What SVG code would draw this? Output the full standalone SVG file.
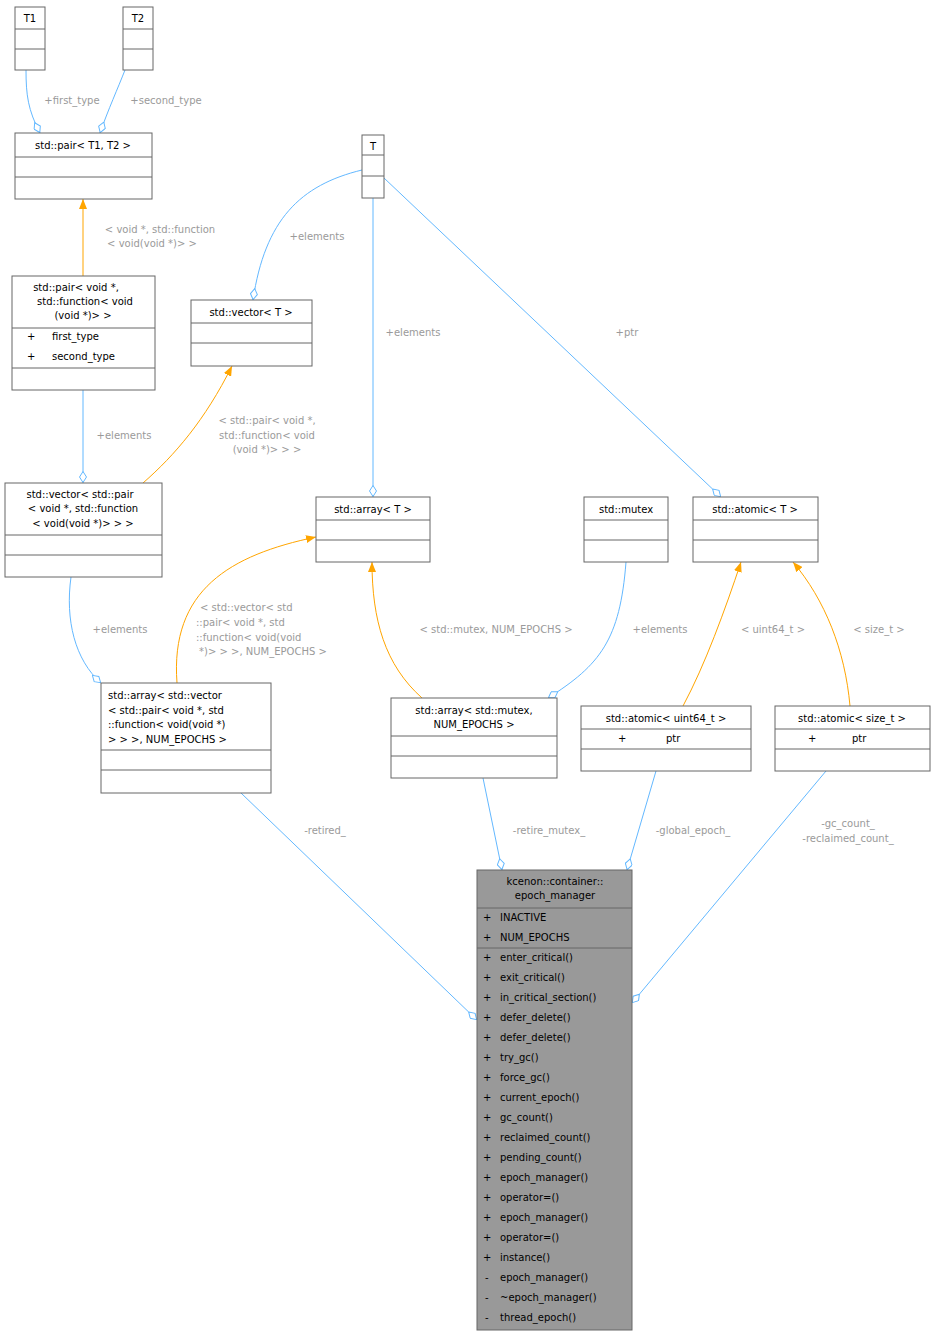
<svg xmlns="http://www.w3.org/2000/svg" width="936" height="1336" viewBox="0 0 936 1336">
<style>
text{font-family:"DejaVu Sans",sans-serif;font-size:10px;fill:#000}
.c{text-anchor:middle}
.l{fill:#9a9a9a;font-size:10px}
.b{fill:#fff;stroke:#666;stroke-width:1}
.m{fill:#999;stroke:#666;stroke-width:1}
.s{stroke:#666;stroke-width:1}
.e{fill:none;stroke:#63b8ff;stroke-width:1}
.o{fill:none;stroke:#ffa500;stroke-width:1}
</style>
<defs>
<marker id="d" viewBox="0 0 12 8" refX="12" refY="4" markerWidth="12" markerHeight="8" markerUnits="userSpaceOnUse" orient="auto"><path d="M0.5,4 L6,0.5 L11.5,4 L6,7.5 Z" fill="#fff" stroke="#63b8ff"/></marker>
<marker id="a" viewBox="0 0 10 8" refX="10" refY="4" markerWidth="10" markerHeight="8" markerUnits="userSpaceOnUse" orient="auto"><path d="M0,0 L10,4 L0,8 Z" fill="#ffa500"/></marker>
</defs>
<g id="edges">
<path class="e" d="M26,70 C26,95 28,110 40,133" marker-end="url(#d)"/>
<text class="l c" x="72" y="104">+first_type</text>
<path class="e" d="M125,70 C118,88 108,110 100,133" marker-end="url(#d)"/>
<text class="l c" x="166" y="104">+second_type</text>
<path class="o" d="M83,276 L83,199" marker-end="url(#a)"/>
<text class="l c" x="160" y="233">&lt; void *, std::function</text>
<text class="l c" x="152" y="247">&lt; void(void *)&gt; &gt;</text>
<path class="e" d="M362,170 C300,185 265,220 253,300" marker-end="url(#d)"/>
<text class="l c" x="317" y="240">+elements</text>
<path class="e" d="M373,198 L373,497" marker-end="url(#d)"/>
<text class="l c" x="413" y="336">+elements</text>
<path class="e" d="M384,178 L721,497" marker-end="url(#d)"/>
<text class="l c" x="627" y="336">+ptr</text>
<path class="e" d="M83,390 L83,483" marker-end="url(#d)"/>
<text class="l c" x="124" y="439">+elements</text>
<path class="o" d="M143,483 C175,455 205,420 232,366" marker-end="url(#a)"/>
<text class="l c" x="267" y="424">&lt; std::pair&lt; void *,</text>
<text class="l c" x="267" y="439">std::function&lt; void</text>
<text class="l c" x="267" y="453">(void *)&gt; &gt; &gt;</text>
<path class="e" d="M71,577 C65,620 75,660 101,683" marker-end="url(#d)"/>
<text class="l c" x="120" y="633">+elements</text>
<path class="o" d="M177,683 C170,590 230,555 316,537" marker-end="url(#a)"/>
<text class="l" x="200" y="611">&lt; std::vector&lt; std</text>
<text class="l" x="196" y="626">::pair&lt; void *, std</text>
<text class="l" x="196" y="641">::function&lt; void(void</text>
<text class="l" x="199" y="655">*)&gt; &gt; &gt;, NUM_EPOCHS &gt;</text>
<path class="o" d="M422,698 C385,665 372,620 372,562" marker-end="url(#a)"/>
<text class="l c" x="496" y="633">&lt; std::mutex, NUM_EPOCHS &gt;</text>
<path class="e" d="M626,562 C620,640 600,665 548,698" marker-end="url(#d)"/>
<text class="l c" x="660" y="633">+elements</text>
<path class="o" d="M683,706 C705,665 725,610 741,562" marker-end="url(#a)"/>
<text class="l c" x="773" y="633">&lt; uint64_t &gt;</text>
<path class="o" d="M850,706 C845,650 825,600 793,562" marker-end="url(#a)"/>
<text class="l c" x="879" y="633">&lt; size_t &gt;</text>
<path class="e" d="M241,793 L477,1020" marker-end="url(#d)"/>
<text class="l c" x="325" y="834">-retired_</text>
<path class="e" d="M483,778 L502,870" marker-end="url(#d)"/>
<text class="l c" x="549" y="834">-retire_mutex_</text>
<path class="e" d="M656,771 L627,870" marker-end="url(#d)"/>
<text class="l c" x="693" y="834">-global_epoch_</text>
<path class="e" d="M826,771 L632,1003" marker-end="url(#d)"/>
<text class="l c" x="848" y="827">-gc_count_</text>
<text class="l c" x="848" y="842">-reclaimed_count_</text>
</g>
<g id="T1"><rect class="b" x="15" y="7" width="30" height="63"/><path class="s" d="M15,29H45M15,49H45"/><text class="c" x="30" y="22">T1</text></g>
<g id="T2"><rect class="b" x="123" y="7" width="30" height="63"/><path class="s" d="M123,29H153M123,49H153"/><text class="c" x="138" y="22">T2</text></g>
<g id="pairT"><rect class="b" x="15" y="133" width="137" height="66"/><path class="s" d="M15,157H152M15,177H152"/><text class="c" x="83" y="149">std::pair&lt; T1, T2 &gt;</text></g>
<g id="pairV"><rect class="b" x="12" y="276" width="143" height="114"/><path class="s" d="M12,328H155M12,368H155"/>
<text class="c" x="76" y="291">std::pair&lt; void *,</text><text class="c" x="85" y="305">std::function&lt; void</text><text class="c" x="83" y="319">(void *)&gt; &gt;</text>
<text x="27" y="340">+</text><text x="52" y="340">first_type</text><text x="27" y="360">+</text><text x="52" y="360">second_type</text></g>
<g id="vecT"><rect class="b" x="191" y="300" width="121" height="66"/><path class="s" d="M191,323H312M191,343H312"/><text class="c" x="251" y="316">std::vector&lt; T &gt;</text></g>
<g id="T"><rect class="b" x="362" y="135" width="22" height="63"/><path class="s" d="M362,155H384M362,176H384"/><text class="c" x="373" y="150">T</text></g>
<g id="vecPair"><rect class="b" x="5" y="483" width="157" height="94"/><path class="s" d="M5,535H162M5,555H162"/>
<text class="c" x="80" y="498">std::vector&lt; std::pair</text><text class="c" x="83" y="512">&lt; void *, std::function</text><text class="c" x="83" y="527">&lt; void(void *)&gt; &gt; &gt;</text></g>
<g id="arrT"><rect class="b" x="316" y="497" width="114" height="65"/><path class="s" d="M316,520H430M316,540H430"/><text class="c" x="373" y="513">std::array&lt; T &gt;</text></g>
<g id="mutex"><rect class="b" x="584" y="497" width="84" height="65"/><path class="s" d="M584,520H668M584,540H668"/><text class="c" x="626" y="513">std::mutex</text></g>
<g id="atomT"><rect class="b" x="693" y="497" width="125" height="65"/><path class="s" d="M693,520H818M693,540H818"/><text class="c" x="755" y="513">std::atomic&lt; T &gt;</text></g>
<g id="arrVec"><rect class="b" x="101" y="683" width="170" height="110"/><path class="s" d="M101,750H271M101,770H271"/>
<text x="108" y="699">std::array&lt; std::vector</text><text x="108" y="714">&lt; std::pair&lt; void *, std</text><text x="108" y="728">::function&lt; void(void *)</text><text x="108" y="743">&gt; &gt; &gt;, NUM_EPOCHS &gt;</text></g>
<g id="arrMutex"><rect class="b" x="391" y="698" width="166" height="80"/><path class="s" d="M391,736H557M391,756H557"/>
<text class="c" x="474" y="714">std::array&lt; std::mutex,</text><text class="c" x="474" y="728">NUM_EPOCHS &gt;</text></g>
<g id="atomU"><rect class="b" x="581" y="706" width="170" height="65"/><path class="s" d="M581,729H751M581,749H751"/><text class="c" x="666" y="722">std::atomic&lt; uint64_t &gt;</text><text x="618" y="742">+</text><text x="666" y="742">ptr</text></g>
<g id="atomS"><rect class="b" x="775" y="706" width="155" height="65"/><path class="s" d="M775,729H930M775,749H930"/><text class="c" x="852" y="722">std::atomic&lt; size_t &gt;</text><text x="808" y="742">+</text><text x="852" y="742">ptr</text></g>
<g id="epoch"><rect class="m" x="477" y="870" width="155" height="460"/><path class="s" d="M477,908H632M477,948H632"/>
<text class="c" x="555" y="885">kcenon::container::</text><text class="c" x="555" y="899">epoch_manager</text>
<g>
<text x="483" y="921">+</text><text x="500" y="921">INACTIVE</text>
<text x="483" y="941">+</text><text x="500" y="941">NUM_EPOCHS</text>
<text x="483" y="961">+</text><text x="500" y="961">enter_critical()</text>
<text x="483" y="981">+</text><text x="500" y="981">exit_critical()</text>
<text x="483" y="1001">+</text><text x="500" y="1001">in_critical_section()</text>
<text x="483" y="1021">+</text><text x="500" y="1021">defer_delete()</text>
<text x="483" y="1041">+</text><text x="500" y="1041">defer_delete()</text>
<text x="483" y="1061">+</text><text x="500" y="1061">try_gc()</text>
<text x="483" y="1081">+</text><text x="500" y="1081">force_gc()</text>
<text x="483" y="1101">+</text><text x="500" y="1101">current_epoch()</text>
<text x="483" y="1121">+</text><text x="500" y="1121">gc_count()</text>
<text x="483" y="1141">+</text><text x="500" y="1141">reclaimed_count()</text>
<text x="483" y="1161">+</text><text x="500" y="1161">pending_count()</text>
<text x="483" y="1181">+</text><text x="500" y="1181">epoch_manager()</text>
<text x="483" y="1201">+</text><text x="500" y="1201">operator=()</text>
<text x="483" y="1221">+</text><text x="500" y="1221">epoch_manager()</text>
<text x="483" y="1241">+</text><text x="500" y="1241">operator=()</text>
<text x="483" y="1261">+</text><text x="500" y="1261">instance()</text>
<text x="485" y="1281">-</text><text x="500" y="1281">epoch_manager()</text>
<text x="485" y="1301">-</text><text x="500" y="1301">~epoch_manager()</text>
<text x="485" y="1321">-</text><text x="500" y="1321">thread_epoch()</text>
</g></g>
</svg>
